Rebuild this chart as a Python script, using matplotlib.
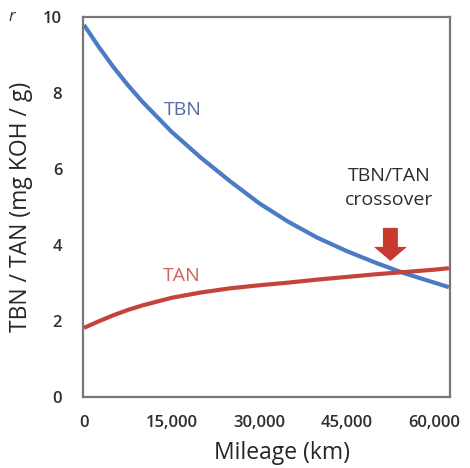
import numpy as np
import matplotlib.pyplot as plt

plt.rcParams['font.family'] = ['Open Sans', 'DejaVu Sans']

# values
mileage = [0, 2500, 5000, 7500, 10000, 15000, 20000, 25000, 30000, 35000, 40000, 45000, 50000, 55000, 60000, 62500]
tbn = [9.79, 9.22, 8.69, 8.21, 7.77, 6.98, 6.30, 5.68, 5.10, 4.61, 4.19, 3.84, 3.53, 3.25, 3.01, 2.89]
tan = [1.82, 1.99, 2.15, 2.29, 2.41, 2.61, 2.75, 2.86, 2.94, 3.01, 3.09, 3.16, 3.23, 3.29, 3.35, 3.39]
xticks = [0, 15000, 30000, 45000, 60000]
yticks = [0, 2, 4, 6, 8, 10]

fig = plt.figure(figsize=(4.7, 4.68), dpi=100)
ax = fig.add_axes([0.1766, 0.1517, 0.781, 0.812])

ax.plot(mileage, tbn, color='#4a7bc4', lw=3, solid_capstyle='butt')
ax.plot(mileage, tan, color='#c4443c', lw=3, solid_capstyle='butt')

ax.set_xlim(-170, 62700)
ax.set_ylim(0, 10)
ax.set_xticks(xticks)
ax.set_xticklabels(['{:,}'.format(v) for v in xticks])
ax.set_yticks(yticks)
ax.tick_params(length=0, labelsize=12, labelcolor='#2e2e2e')
ax.tick_params(axis='y', pad=15)
ax.tick_params(axis='x', pad=13)
for lab in ax.get_xticklabels() + ax.get_yticklabels():
    lab.set_fontweight('semibold')

for sp in ax.spines.values():
    sp.set_color('#777777')
    sp.set_linewidth(1.6)

ax.set_xlabel('Mileage (km)', fontsize=16.5, color='#262626')
ax.xaxis.set_label_coords(0.543, -0.115)
ax.set_ylabel('TBN / TAN (mg KOH / g)', fontsize=16.5, color='#262626')
ax.yaxis.set_label_coords(-0.136, 0.5)

# curve labels
ax.text(16900, 7.55, 'TBN', color='#5b6c9e', fontsize=14, ha='center', va='center')
ax.text(16750, 3.18, 'TAN', color='#d0645f', fontsize=14, ha='center', va='center')
ax.text(52300, 5.5, 'TBN/TAN\ncrossover', color='#2e2e2e', fontsize=14,
        ha='center', va='center', linespacing=1.45)

# crossover arrow
ax.arrow(52480, 4.45, 0, -0.87, width=2560, head_width=5640, head_length=0.37,
         length_includes_head=True, color='#c8392e', lw=0)

fig.text(0.018, 0.955, 'r', fontsize=12, style='italic', color='#333333')

fig.savefig('out.png', dpi=100)
